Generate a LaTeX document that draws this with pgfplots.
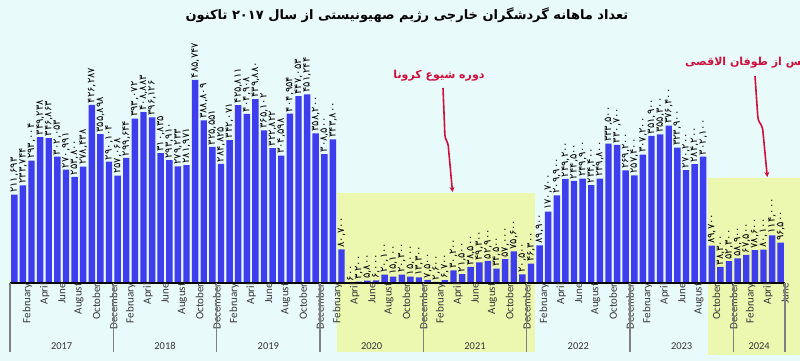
\documentclass[border=0pt]{standalone}
\usepackage{fontspec}
\usepackage{pgfplots}
\pgfplotsset{compat=1.18}
\usepackage{pgfplotstable}
\usetikzlibrary{arrows.meta}
\TeXXeTstate=1
\newfontfamily\arabicfont[Script=Arabic]{DejaVu Sans}
\newfontfamily\fadig{DejaVu Sans}
\newfontfamily\carlito{Carlito}
\definecolor{bgc}{RGB}{233,250,251}
\definecolor{yelc}{RGB}{236,247,176}
\definecolor{barc}{RGB}{62,62,238}
\definecolor{redc}{RGB}{205,16,60}
\definecolor{txtc}{RGB}{55,55,55}
\def\fadigits#1{\fanumloop#1\relax}
\def\fanumloop#1{\ifx\relax#1\else\fachar{#1}\expandafter\fanumloop\fi}
\def\fachar#1{\if,#1,\else\ifcase#1 ۰\or ۱\or ۲\or ۳\or ۴\or ۵\or ۶\or ۷\or ۸\or ۹\fi\fi}
\pgfplotstableread{
i v lab
0 211693 211,693
1 233744 233,744
2 293004 293,004
3 349238 349,238
4 346863 346,863
5 302053 302,053
6 270991 270,991
7 253800 253,800
8 278438 278,438
9 426287 426,287
10 355898 355,898
11 290104 290,104
12 257068 257,068
13 299644 299,644
14 393072 393,072
15 408883 408,883
16 396126 396,126
17 310835 310,835
18 293910 293,910
19 279233 279,233
20 281971 281,971
21 485747 485,747
22 388809 388,809
23 325551 325,551
24 284825 284,825
25 342071 342,071
26 425811 425,811
27 404908 404,908
28 439880 439,880
29 365102 365,102
30 322822 322,822
31 304598 304,598
32 404954 404,954
33 447053 447,053
34 451244 451,244
35 358200 358,200
36 308500 308,500
37 343800 343,800
38 80700 80,700
39 600 600
40 3200 3,200
41 5800 5,800
42 6000 6,000
43 20100 20,100
44 15100 15,100
45 20300 20,300
46 15000 15,000
47 13300 13,300
48 7500 7,500
49 2600 2,600
50 6700 6,700
51 30200 30,200
52 21500 21,500
53 38500 38,500
54 49300 49,300
55 52900 52,900
56 34500 34,500
57 57000 57,000
58 75600 75,600
59 20500 20,500
60 46300 46,300
61 89900 89,900
62 170700 170,700
63 209900 209,900
64 249200 249,200
65 244500 244,500
66 249900 249,900
67 234400 234,400
68 249800 249,800
69 333500 333,500
70 330700 330,700
71 269200 269,200
72 257400 257,400
73 307200 307,200
74 351900 351,900
75 355300 355,300
76 376400 376,400
77 323900 323,900
78 270200 270,200
79 284200 284,200
80 302100 302,100
81 89700 89,700
82 38300 38,300
83 52300 52,300
84 58900 58,900
85 67500 67,500
86 78600 78,600
87 80100 80,100
88 114000 114,000
89 96500 96,500
}\tourists
\begin{document}
\begin{tikzpicture}
\fill[bgc] (0pt,0pt) rectangle (800pt,-361pt);
\begin{axis}[
  at={(10pt,-283pt)}, anchor=south west,
  scale only axis, width=775pt, height=209pt,
  xmin=-0.5, xmax=89.5, ymin=0, ymax=500000,
  enlargelimits=false, clip=false, axis on top,
  axis x line*=bottom, axis y line=none,
  x axis line style={black, line width=1.2pt, -},
  xtick={1,3,...,89},
  xticklabels={February,April,June,August,October,December,
    February,April,June,August,October,December,
    February,April,June,August,October,December,
    February,April,June,August,October,December,
    February,April,June,August,October,December,
    February,April,June,August,October,December,
    February,April,June,August,October,December,
    February,April,June},
  xticklabel style={rotate=90, anchor=east, inner sep=0pt, yshift=-4.5pt,
    font=\carlito\fontsize{11}{11}\selectfont, text=txtc},
  major tick length=0pt,
  extra x ticks={-0.5,11.5,23.5,35.5,47.5,59.5,71.5,83.5,89.5},
  extra x tick labels={},
  extra x tick style={tick align=outside, major tick length=69pt,
    tick style={color=gray, line width=1.2pt}},
  ytick=\empty,
  ybar, bar width=6.4pt,
  point meta=explicit symbolic,
  nodes near coords={\expandafter\fadigits\expandafter{\pgfplotspointmeta}},
  every node near coord/.append style={rotate=90, anchor=west, inner sep=1.5pt,
    font=\fadig\fontsize{10}{10}\selectfont, text=black},
]
\fill[yelc] (axis cs:37.5,-165000) rectangle (axis cs:60.5,215000);
\fill[yelc] (axis cs:80.5,-172000) rectangle (axis cs:93,251000);
\addplot[fill=barc, draw=none] table[x=i, y=v, meta=lab] {\tourists};
\node[font=\carlito\fontsize{10.5}{10.5}\selectfont, text=txtc] at (axis cs:5.5,0) [yshift=-63pt] {2017};
\node[font=\carlito\fontsize{10.5}{10.5}\selectfont, text=txtc] at (axis cs:17.5,0) [yshift=-63pt] {2018};
\node[font=\carlito\fontsize{10.5}{10.5}\selectfont, text=txtc] at (axis cs:29.5,0) [yshift=-63pt] {2019};
\node[font=\carlito\fontsize{10.5}{10.5}\selectfont, text=txtc] at (axis cs:41.5,0) [yshift=-63pt] {2020};
\node[font=\carlito\fontsize{10.5}{10.5}\selectfont, text=txtc] at (axis cs:53.5,0) [yshift=-63pt] {2021};
\node[font=\carlito\fontsize{10.5}{10.5}\selectfont, text=txtc] at (axis cs:65.5,0) [yshift=-63pt] {2022};
\node[font=\carlito\fontsize{10.5}{10.5}\selectfont, text=txtc] at (axis cs:77.5,0) [yshift=-63pt] {2023};
\node[font=\carlito\fontsize{10.5}{10.5}\selectfont, text=txtc] at (axis cs:86.5,0) [yshift=-63pt] {2024};
\end{axis}
\node[font=\arabicfont\bfseries\fontsize{13}{13}\selectfont] at (407pt,-15pt)
  {\beginR تعداد ماهانه گردشگران خارجی رژیم صهیونیستی از سال ۲۰۱۷ تاکنون\endR};
\node[font=\arabicfont\bfseries\fontsize{11}{11}\selectfont, text=redc] at (439pt,-76pt)
  {\beginR دوره شیوع کرونا\endR};
\draw[redc, line width=1.6pt, rounded corners=3pt, -{Stealth[length=5pt,width=5pt]}]
  (443pt,-88pt) -- (445pt,-138pt) -- (448pt,-143pt) -- (452.5pt,-192pt);
\node[font=\arabicfont\bfseries\fontsize{11}{11}\selectfont, text=redc, anchor=east] at (809pt,-63pt)
  {\beginR پس از طوفان الاقصی\endR};
\draw[redc, line width=1.6pt, rounded corners=3pt, -{Stealth[length=5pt,width=5pt]}]
  (755pt,-76pt) -- (758pt,-120pt) -- (762.5pt,-127pt) -- (767.3pt,-177pt);
\pgfresetboundingbox
\useasboundingbox (0pt,0pt) rectangle (800pt,-361pt);
\end{tikzpicture}
\end{document}
